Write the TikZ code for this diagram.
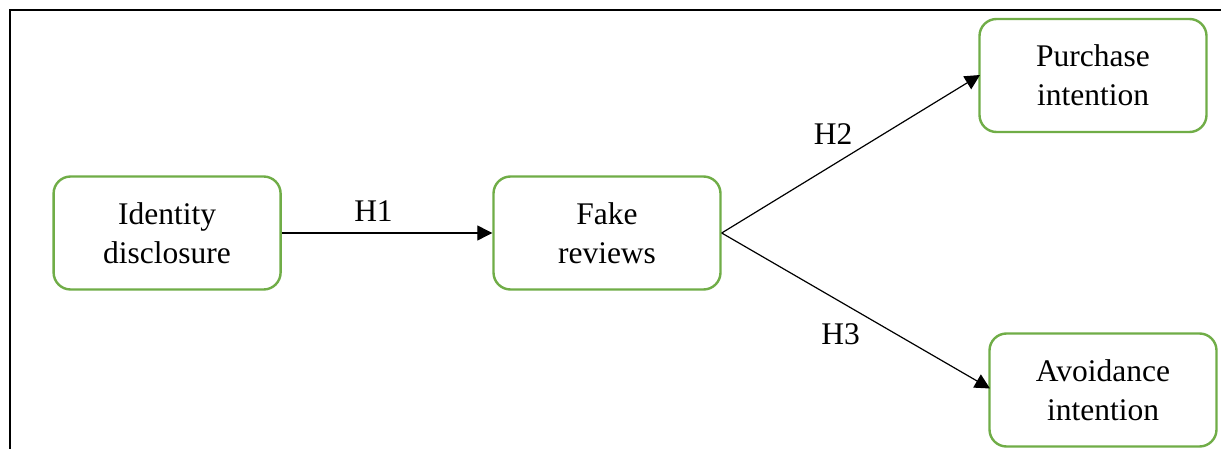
\documentclass[tikz,border=0pt]{standalone}
\usepackage{fontspec}
\setmainfont{Liberation Serif}
\usetikzlibrary{arrows.meta}
\definecolor{boxgreen}{HTML}{70AD47}
\begin{document}
\begin{tikzpicture}[x=1pt,y=-1pt,
  varbox/.style={draw=boxgreen, line width=2.4pt, rounded corners=17pt,
    minimum width=227pt, minimum height=113pt, inner sep=0pt, align=center,
    font=\fontsize{31.5}{39}\selectfont},
  hlabel/.style={anchor=base, inner sep=0pt, font=\fontsize{31.5}{39}\selectfont},
  link/.style={line width=1.2pt, -{Triangle[length=15pt,width=15pt]}}]
\useasboundingbox (0,0) rectangle (1221,449);
\fill[white] (0,0) rectangle (1221,449);
\draw[line width=2.6pt] (1221,10) -- (10,10) -- (10,449);
\node[varbox] (id) at (167.1,233) {Identity\\disclosure};
\node[varbox] (fr) at (607,233) {Fake\\reviews};
\node[varbox] (pi) at (1093,75.5) {Purchase\\intention};
\node[varbox] (ai) at (1103,390) {Avoidance\\intention};
\coordinate (pin) at (980,75);
\coordinate (ain) at (990,388.5);
\draw[link] (id.east) -- (fr.west);
\draw[link] (fr.east) -- (pin);
\draw[link] (fr.east) -- (ain);
\node[hlabel] (h1) at (373.5,222) {H1};
\node[hlabel] (h2) at (833,145) {H2};
\node[hlabel] (h3) at (840.5,344) {H3};
\end{tikzpicture}
\end{document}
